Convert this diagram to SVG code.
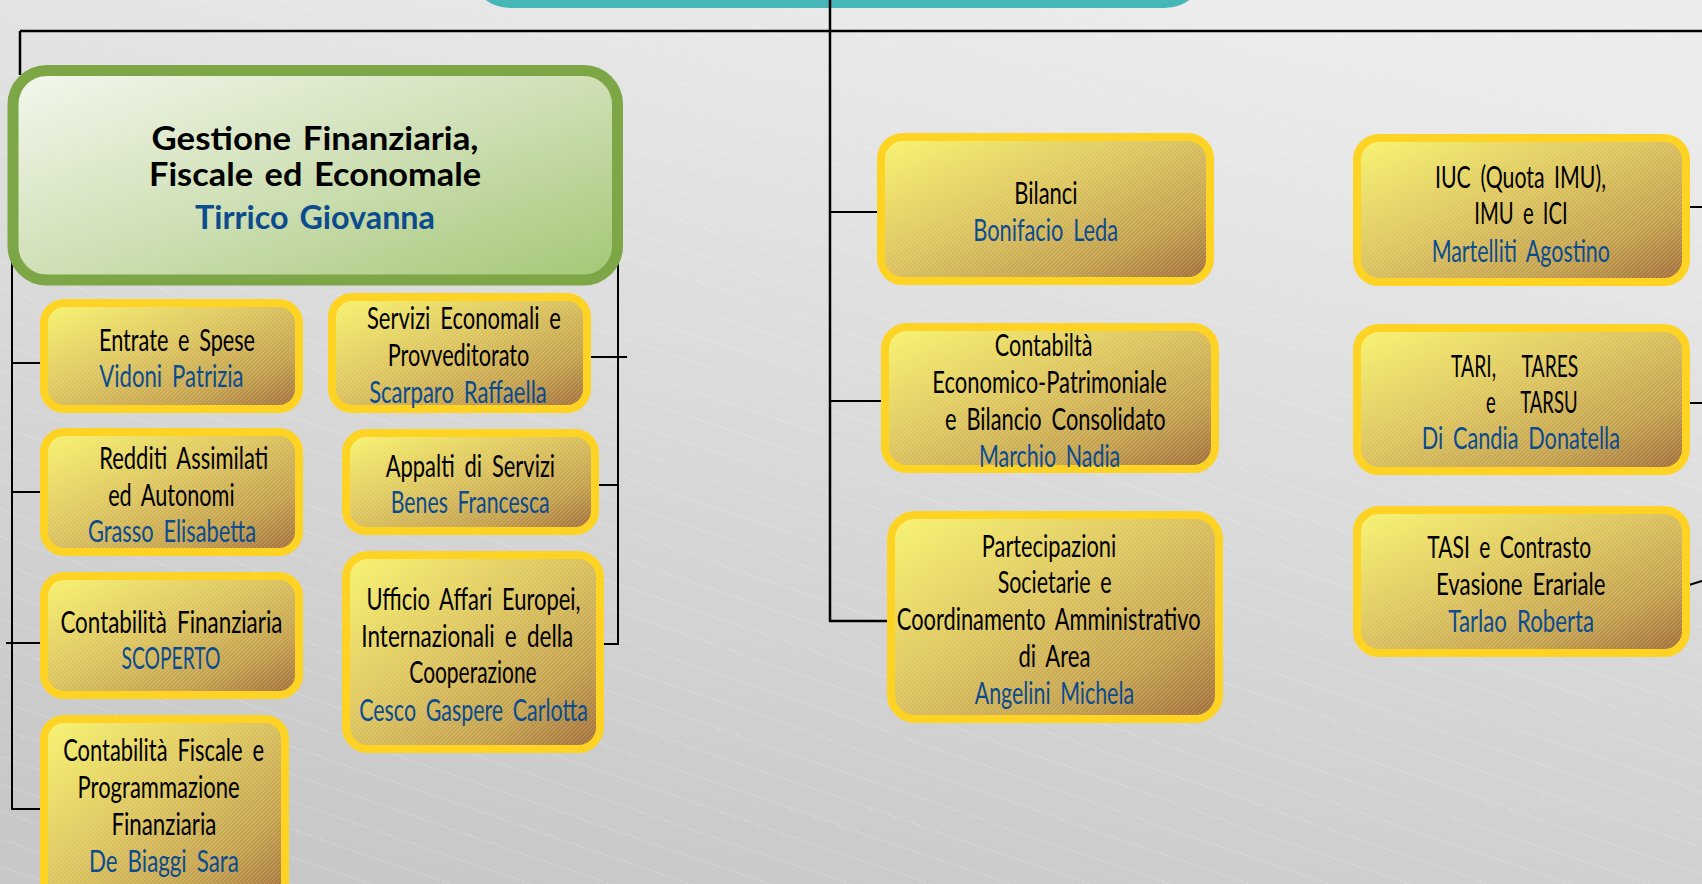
<svg xmlns="http://www.w3.org/2000/svg" width="1702" height="884" viewBox="0 0 1702 884">
<defs>
<linearGradient id="bg" x1="0.7" y1="0" x2="0.3" y2="1">
<stop offset="0" stop-color="#ECECEC"/>
<stop offset="1" stop-color="#C8C8C8"/>
</linearGradient>
<pattern id="bgHatch" width="60" height="26" patternUnits="userSpaceOnUse" patternTransform="rotate(19)">
<line x1="0" y1="13" x2="60" y2="13" stroke="#FFFFFF" stroke-opacity="0.3" stroke-width="1" stroke-dasharray="3 2"/>
</pattern>
<linearGradient id="gold" x1="0" y1="0" x2="1" y2="1">
<stop offset="0" stop-color="#F8F46E"/>
<stop offset="0.45" stop-color="#DCC45E"/>
<stop offset="0.75" stop-color="#C4A14E"/>
<stop offset="1" stop-color="#A06C38"/>
</linearGradient>
<linearGradient id="green" x1="0" y1="0" x2="1" y2="1">
<stop offset="0" stop-color="#F4F8EE"/>
<stop offset="0.5" stop-color="#CFE0B6"/>
<stop offset="1" stop-color="#A4C776"/>
</linearGradient>
<linearGradient id="teal" x1="0" y1="0" x2="0" y2="1">
<stop offset="0" stop-color="#4FBDBD"/>
<stop offset="1" stop-color="#45B5B6"/>
</linearGradient>
<pattern id="hatch" width="4" height="4" patternUnits="userSpaceOnUse">
<line x1="0" y1="4" x2="4" y2="0" stroke="#FFFFFF" stroke-opacity="0.18" stroke-width="1"/>
</pattern>
<style>
.box{fill:url(#gold);stroke:#FFD324;stroke-width:8}
.hx{fill:url(#hatch);stroke:none}
.gbox{fill:url(#green);stroke:#7DA746;stroke-width:11}
.t{font-family:Lato,"Liberation Sans",sans-serif;font-size:31px;fill:#000000;text-anchor:middle;white-space:pre;word-spacing:6px}
.n{font-family:Lato,"Liberation Sans",sans-serif;font-size:31px;fill:#0C4B8E;text-anchor:middle;white-space:pre;word-spacing:6px}
.tb{font-family:Lato,"Liberation Sans",sans-serif;font-size:32px;font-weight:bold;fill:#000000;text-anchor:middle;word-spacing:3px}
.nb{font-family:Lato,"Liberation Sans",sans-serif;font-size:32px;font-weight:bold;fill:#0C4B8E;text-anchor:middle;word-spacing:3px}
.ln{fill:none;stroke:#000000;stroke-width:2.5}
.st{fill:none;stroke:#000000;stroke-width:2}
</style>
</defs>

<rect x="0" y="0" width="1702" height="884" fill="url(#bg)"/>
<rect x="0" y="0" width="1702" height="884" fill="url(#bgHatch)"/>

<g id="top-node">
<rect x="470" y="-70" width="735" height="78" rx="40" fill="url(#teal)"/>
</g>

<g id="connectors">
<line class="ln" x1="20" y1="31" x2="1702" y2="31"/>
<line class="ln" x1="20" y1="31" x2="20" y2="75"/>
<line class="ln" x1="830" y1="0" x2="830" y2="622"/>
<line class="st" x1="830" y1="212" x2="878" y2="212"/>
<line class="st" x1="830" y1="401" x2="882" y2="401"/>
<line class="ln" x1="829" y1="621" x2="890" y2="621"/>
<line class="st" x1="12" y1="200" x2="12" y2="810"/>
<line class="st" x1="12" y1="363" x2="41" y2="363"/>
<line class="st" x1="12" y1="492" x2="41" y2="492"/>
<line class="st" x1="6" y1="643" x2="41" y2="643"/>
<line class="st" x1="11" y1="809" x2="41" y2="809"/>
<line class="st" x1="618" y1="200" x2="618" y2="645"/>
<line class="st" x1="590" y1="357" x2="627" y2="357"/>
<line class="st" x1="598" y1="485" x2="619" y2="485"/>
<line class="st" x1="603" y1="644" x2="619" y2="644"/>
<line class="st" x1="1689" y1="207" x2="1702" y2="207"/>
<line class="st" x1="1689" y1="403" x2="1702" y2="403"/>
<line class="st" x1="1689" y1="585" x2="1702" y2="581"/>
</g>

<g id="gestione">
<rect class="gbox" x="13" y="70.5" width="604.5" height="209.5" rx="34"/>
<text class="tb" x="315" y="150" textLength="327" lengthAdjust="spacingAndGlyphs">Gestione Finanziaria,</text>
<text class="tb" x="315" y="185.7" textLength="332" lengthAdjust="spacingAndGlyphs">Fiscale ed Economale</text>
<text class="nb" x="315" y="229.3" textLength="240" lengthAdjust="spacingAndGlyphs">Tirrico Giovanna</text>
</g>

<g id="entrate">
<rect class="box" x="44" y="303" width="255" height="106" rx="20"/>
<rect class="hx" x="48" y="307" width="247" height="98" rx="16"/>
<text class="t" x="177" y="350.7" textLength="156" lengthAdjust="spacingAndGlyphs">Entrate e Spese</text>
<text class="n" x="171.4" y="387.3" textLength="144.5" lengthAdjust="spacingAndGlyphs">Vidoni Patrizia</text>
</g>

<g id="servizi">
<rect class="box" x="332" y="297" width="255" height="112" rx="20"/>
<rect class="hx" x="336" y="301" width="247" height="104" rx="16"/>
<text class="t" x="464" y="329.3" textLength="194" lengthAdjust="spacingAndGlyphs">Servizi Economali e</text>
<text class="t" x="458.6" y="366" textLength="141.6" lengthAdjust="spacingAndGlyphs">Provveditorato</text>
<text class="n" x="458" y="402.7" textLength="177.6" lengthAdjust="spacingAndGlyphs">Scarparo Raffaella</text>
</g>

<g id="redditi">
<rect class="box" x="44" y="432" width="255" height="120" rx="20"/>
<rect class="hx" x="48" y="436" width="247" height="112" rx="16"/>
<text class="t" x="183.7" y="469" textLength="169" lengthAdjust="spacingAndGlyphs">Redditi Assimilati</text>
<text class="t" x="171.4" y="505.7" textLength="126.5" lengthAdjust="spacingAndGlyphs">ed Autonomi</text>
<text class="n" x="172" y="542.3" textLength="168" lengthAdjust="spacingAndGlyphs">Grasso Elisabetta</text>
</g>

<g id="appalti">
<rect class="box" x="346" y="433" width="249" height="98" rx="20"/>
<rect class="hx" x="350" y="437" width="241" height="90" rx="16"/>
<text class="t" x="470.4" y="476.7" textLength="169.4" lengthAdjust="spacingAndGlyphs">Appalti di Servizi</text>
<text class="n" x="470.2" y="513.3" textLength="159" lengthAdjust="spacingAndGlyphs">Benes Francesca</text>
</g>

<g id="contabilita-finanziaria">
<rect class="box" x="44" y="576" width="255" height="119" rx="20"/>
<rect class="hx" x="48" y="580" width="247" height="111" rx="16"/>
<text class="t" x="171.4" y="632.7" textLength="222" lengthAdjust="spacingAndGlyphs">Contabilità Finanziaria</text>
<text class="n" x="171" y="669.3" textLength="98.8" lengthAdjust="spacingAndGlyphs">SCOPERTO</text>
</g>

<g id="contabilita-fiscale">
<rect class="box" x="44" y="719" width="241" height="190" rx="20"/>
<rect class="hx" x="48" y="723" width="233" height="182" rx="16"/>
<text class="t" x="163.6" y="761" textLength="200.8" lengthAdjust="spacingAndGlyphs">Contabilità Fiscale e</text>
<text class="t" x="158.6" y="798.3" textLength="162" lengthAdjust="spacingAndGlyphs">Programmazione</text>
<text class="t" x="163.9" y="835" textLength="105" lengthAdjust="spacingAndGlyphs">Finanziaria</text>
<text class="n" x="163.9" y="871.7" textLength="149.8" lengthAdjust="spacingAndGlyphs">De Biaggi Sara</text>
</g>

<g id="ufficio-affari-europei">
<rect class="box" x="346" y="555" width="254" height="194" rx="22"/>
<rect class="hx" x="350" y="559" width="246" height="186" rx="18"/>
<text class="t" x="473.5" y="610" textLength="214" lengthAdjust="spacingAndGlyphs">Ufficio Affari Europei,</text>
<text class="t" x="467.3" y="646.7" textLength="212" lengthAdjust="spacingAndGlyphs">Internazionali e della</text>
<text class="t" x="473" y="683.3" textLength="127.3" lengthAdjust="spacingAndGlyphs">Cooperazione</text>
<text class="n" x="473.5" y="721" textLength="228.6" lengthAdjust="spacingAndGlyphs">Cesco Gaspere Carlotta</text>
</g>

<g id="bilanci">
<rect class="box" x="881" y="137" width="329" height="144" rx="22"/>
<rect class="hx" x="885" y="141" width="321" height="136" rx="18"/>
<text class="t" x="1045.9" y="204" textLength="63.3" lengthAdjust="spacingAndGlyphs">Bilanci</text>
<text class="n" x="1045.7" y="240.7" textLength="145" lengthAdjust="spacingAndGlyphs">Bonifacio Leda</text>
</g>

<g id="contabilta-economico">
<rect class="box" x="885" y="327" width="330" height="142" rx="22"/>
<rect class="hx" x="889" y="331" width="322" height="134" rx="18"/>
<text class="t" x="1043.6" y="356" textLength="97.7" lengthAdjust="spacingAndGlyphs">Contabiltà</text>
<text class="t" x="1049.6" y="393.3" textLength="234.5" lengthAdjust="spacingAndGlyphs">Economico-Patrimoniale</text>
<text class="t" x="1055.4" y="430" textLength="220.7" lengthAdjust="spacingAndGlyphs">e Bilancio Consolidato</text>
<text class="n" x="1049.6" y="466.7" textLength="141.2" lengthAdjust="spacingAndGlyphs">Marchio Nadia</text>
</g>

<g id="partecipazioni">
<rect class="box" x="891" y="515" width="328" height="204" rx="24"/>
<rect class="hx" x="895" y="519" width="320" height="196" rx="20"/>
<text class="t" x="1049" y="556.7" textLength="134.4" lengthAdjust="spacingAndGlyphs">Partecipazioni</text>
<text class="t" x="1054.6" y="593.3" textLength="113.9" lengthAdjust="spacingAndGlyphs">Societarie e</text>
<text class="t" x="1048.7" y="630" textLength="303.7" lengthAdjust="spacingAndGlyphs">Coordinamento Amministrativo</text>
<text class="t" x="1054.5" y="666.7" textLength="72" lengthAdjust="spacingAndGlyphs">di Area</text>
<text class="n" x="1054.4" y="704" textLength="159.3" lengthAdjust="spacingAndGlyphs">Angelini Michela</text>
</g>

<g id="iuc">
<rect class="box" x="1357" y="138" width="329" height="144" rx="22"/>
<rect class="hx" x="1361" y="142" width="321" height="136" rx="18"/>
<text class="t" x="1520.5" y="188.3" textLength="171" lengthAdjust="spacingAndGlyphs">IUC (Quota IMU),</text>
<text class="t" x="1521" y="224.3" textLength="93.3" lengthAdjust="spacingAndGlyphs">IMU e ICI</text>
<text class="n" x="1520.8" y="261.7" textLength="178.3" lengthAdjust="spacingAndGlyphs">Martelliti Agostino</text>
</g>

<g id="tari">
<rect class="box" x="1357" y="328" width="329" height="143" rx="22"/>
<rect class="hx" x="1361" y="332" width="321" height="135" rx="18"/>
<text class="t" x="1514.7" y="377.3" textLength="127.3" lengthAdjust="spacingAndGlyphs">TARI,   TARES</text>
<text class="t" x="1531.8" y="412.7" textLength="91.7" lengthAdjust="spacingAndGlyphs">e   TARSU</text>
<text class="n" x="1520.8" y="449.3" textLength="198.3" lengthAdjust="spacingAndGlyphs">Di Candia Donatella</text>
</g>

<g id="tasi">
<rect class="box" x="1357" y="510" width="329" height="143" rx="22"/>
<rect class="hx" x="1361" y="514" width="321" height="135" rx="18"/>
<text class="t" x="1509.2" y="558.3" textLength="163.7" lengthAdjust="spacingAndGlyphs">TASI e Contrasto</text>
<text class="t" x="1520.8" y="595" textLength="169.7" lengthAdjust="spacingAndGlyphs">Evasione Erariale</text>
<text class="n" x="1521.2" y="632.3" textLength="145.7" lengthAdjust="spacingAndGlyphs">Tarlao Roberta</text>
</g>
</svg>
